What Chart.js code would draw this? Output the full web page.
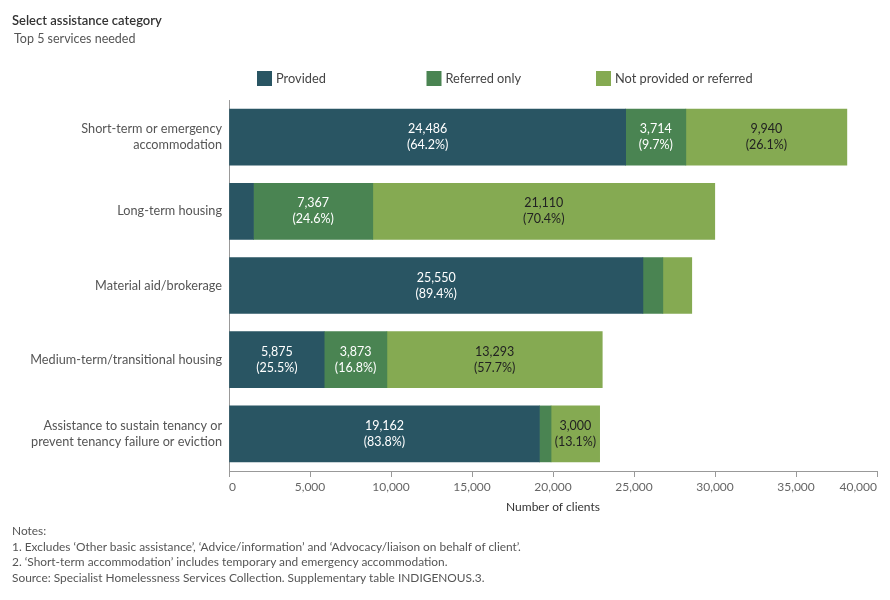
<!DOCTYPE html>
<html>
<head>
<meta charset="utf-8">
<script src="https://cdn.jsdelivr.net/npm/chart.js@4"></script>
<style>
  body { margin: 0; background: #fff; font-family: Lato, "Noto Sans", sans-serif; }
  #wrap { position: relative; width: 890px; height: 600px; }
  #c { position: absolute; left: 0; top: 0; }
  .txt { position: absolute; white-space: nowrap; }
  #title { left: 12px; top: 12px; font-size: 13px; font-weight: 600; color: #333; }
  #sub { left: 14px; top: 31px; font-size: 12.5px; color: #555; }
  #notes { left: 12px; top: 523px; font-size: 11.9px; line-height: 15.7px; color: #555; }
</style>
</head>
<body>
<div id="wrap">
  <canvas id="c" width="890" height="600"></canvas>
  <div class="txt" id="title">Select assistance category</div>
  <div class="txt" id="sub">Top 5 services needed</div>
  <div class="txt" id="notes">
    Notes:<br>
    1. Excludes ‘Other basic assistance’, ‘Advice/information’ and ‘Advocacy/liaison on behalf of client’.<br>
    2. ‘Short-term accommodation’ includes temporary and emergency accommodation.<br>
    Source: Specialist Homelessness Services Collection. Supplementary table INDIGENOUS.3.
  </div>
</div>
<script>
// Data
const categories = [
    ['Short-term or emergency', 'accommodation'],
    'Long-term housing',
    'Material aid/brokerage',
    'Medium-term/transitional housing',
    ['Assistance to sustain tenancy or', 'prevent tenancy failure or eviction']
];
const seriesNames = ['Provided', 'Referred only', 'Not provided or referred'];
const provided = [24486, 1509, 25550, 5875, 19162];
const referredOnly = [3714, 7367, 1231, 3873, 718];
const notProvided = [9940, 21110, 1785, 13293, 3000];
const xTicks = [0, 5000, 10000, 15000, 20000, 25000, 30000, 35000, 40000];

const colors = ['#295563', '#4a8452', '#85aa52'];
const labelColors = ['#ffffff', '#ffffff', '#222222'];
const fontFamily = 'Lato, "Noto Sans", sans-serif';

const fmt = v => v.toLocaleString('en-US');

// Legend drawn with fixed spacing like the original
const legendPlugin = {
    id: 'fixedLegend',
    afterDraw(chart) {
        const ctx = chart.ctx;
        ctx.save();
        ctx.font = '12.8px ' + fontFamily;
        ctx.textBaseline = 'middle';
        chart.data.datasets.forEach((ds, i) => {
            const x = 257 + i * 169.5;
            ctx.fillStyle = ds.backgroundColor;
            ctx.fillRect(x, 71, 15, 15);
            ctx.fillStyle = '#444';
            ctx.fillText(ds.label, x + 19, 79);
        });
        ctx.restore();
    }
};

// Value + percentage labels inside the segments
const segLabelPlugin = {
    id: 'segLabels',
    afterDatasetsDraw(chart) {
        const ctx = chart.ctx;
        const datasets = chart.data.datasets;
        ctx.save();
        ctx.font = '12.5px ' + fontFamily;
        ctx.textAlign = 'center';
        ctx.textBaseline = 'middle';
        datasets.forEach((ds, di) => {
            const meta = chart.getDatasetMeta(di);
            meta.data.forEach((bar, i) => {
                const w = Math.abs(bar.x - bar.base);
                if (w < 40) return;
                const total = datasets.reduce((s, d) => s + d.data[i], 0);
                const pct = (ds.data[i] / total * 100).toFixed(1);
                const cx = (bar.x + bar.base) / 2;
                ctx.fillStyle = labelColors[di];
                ctx.fillText(fmt(ds.data[i]), cx, bar.y - 8);
                ctx.fillText('(' + pct + '%)', cx, bar.y + 8);
            });
        });
        ctx.restore();
    }
};

new Chart(document.getElementById('c'), {
    type: 'bar',
    data: {
        labels: categories,
        datasets: [
            { label: seriesNames[0], data: provided, backgroundColor: colors[0] },
            { label: seriesNames[1], data: referredOnly, backgroundColor: colors[1] },
            { label: seriesNames[2], data: notProvided, backgroundColor: colors[2] }
        ]
    },
    options: {
        indexAxis: 'y',
        responsive: false,
        animation: false,
        devicePixelRatio: 1,
        barThickness: 56,
        layout: { padding: { left: 0, top: 100, right: 13, bottom: 0 } },
        plugins: {
            legend: { display: false },
            tooltip: { enabled: false }
        },
        scales: {
            x: {
                stacked: true,
                min: 0,
                max: 40000,
                afterBuildTicks: s => { s.ticks = xTicks.map(v => ({ value: v })); },
                afterFit: s => { s.height = 129; },
                grid: { display: true, drawOnChartArea: false, drawTicks: true, tickLength: 6, color: '#999' },
                border: { display: true, color: '#999' },
                ticks: {
                    align: 'inner',
                    padding: 3,
                    color: '#666',
                    font: { family: fontFamily, size: 12 },
                    callback: v => fmt(v)
                },
                title: {
                    display: true,
                    text: 'Number of clients',
                    color: '#333',
                    font: { family: fontFamily, size: 12 },
                    padding: { top: 0, bottom: 86 }
                }
            },
            y: {
                stacked: true,
                afterFit: s => { s.width = 229; },
                grid: { display: false, drawTicks: false },
                border: { display: true, color: '#999' },
                ticks: {
                    padding: 7,
                    color: '#555',
                    font: { family: fontFamily, size: 12.7, lineHeight: 1.26 }
                }
            }
        }
    },
    plugins: [legendPlugin, segLabelPlugin]
});
</script>
</body>
</html>
